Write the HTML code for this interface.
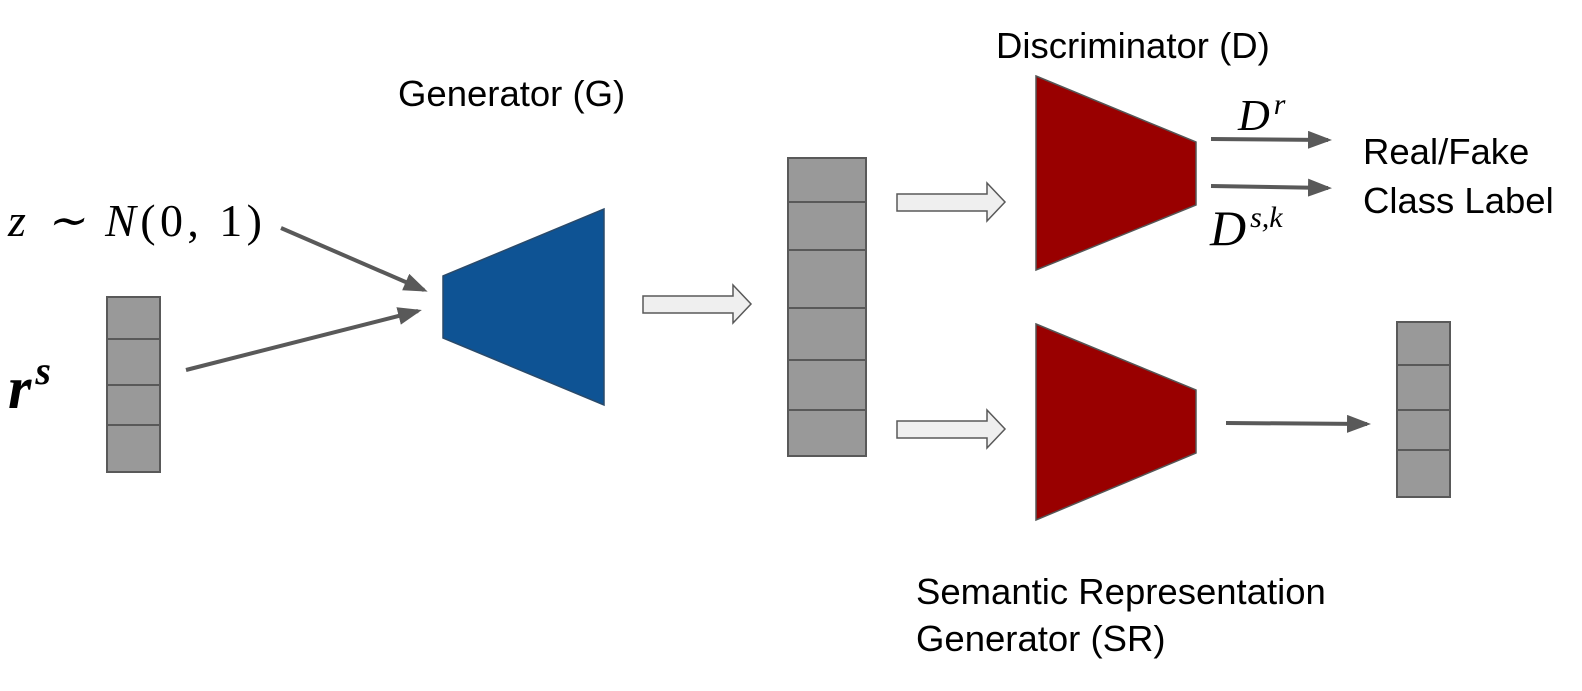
<!DOCTYPE html>
<html><head><meta charset="utf-8"><style>
html,body{margin:0;padding:0;background:#fff;width:1582px;height:691px;overflow:hidden}
</style></head><body>
<svg width="1582" height="691" xmlns="http://www.w3.org/2000/svg">
<defs>
<marker id="ah" markerWidth="24" markerHeight="18" refX="20" refY="9" orient="auto" markerUnits="userSpaceOnUse" viewBox="0 0 24 18">
<path d="M0,0 L24,9 L0,18 z" fill="#595959"/></marker>
</defs>
<g font-family="Liberation Sans, sans-serif" font-size="36.5" fill="#000">
<text x="398" y="106">Generator (G)</text>
<text x="996" y="58">Discriminator (D)</text>
<text x="1363" y="164">Real/Fake</text>
<text x="1363" y="213">Class Label</text>
<text x="916" y="604">Semantic Representation</text>
<text x="916" y="651">Generator (SR)</text>
</g>
<g font-family="Liberation Serif, serif" font-style="italic" font-size="46">
<text x="8" y="236" textLength="254" lengthAdjust="spacing">z ∼ <tspan>N</tspan><tspan font-style="normal">(0, 1)</tspan></text>
<text x="8" y="408" font-weight="bold" font-size="60">r<tspan dx="4" dy="-24" font-size="40">s</tspan></text>
<text x="1238" y="130" font-size="44">D<tspan dx="4" dy="-16" font-size="30">r</tspan></text>
<text x="1210" y="245" font-size="50">D<tspan dx="4" dy="-18" font-size="30">s,k</tspan></text>
</g>
<g fill="#999" stroke="#595959" stroke-width="2">
<rect x="107" y="297" width="53" height="175"/>
<line x1="107" y1="339" x2="160" y2="339"/><line x1="107" y1="385" x2="160" y2="385"/><line x1="107" y1="425" x2="160" y2="425"/>
<rect x="788" y="158" width="78" height="298"/>
<line x1="788" y1="202" x2="866" y2="202"/><line x1="788" y1="250" x2="866" y2="250"/><line x1="788" y1="308" x2="866" y2="308"/><line x1="788" y1="360" x2="866" y2="360"/><line x1="788" y1="410" x2="866" y2="410"/>
<rect x="1397" y="322" width="53" height="175"/>
<line x1="1397" y1="365" x2="1450" y2="365"/><line x1="1397" y1="410" x2="1450" y2="410"/><line x1="1397" y1="450" x2="1450" y2="450"/>
</g>
<polygon points="443,276 604,209 604,405 443,338" fill="#0e5394" stroke="#2a4a6a" stroke-width="1.5"/>
<polygon points="1036,76 1196,142 1196,205 1036,270" fill="#990000" stroke="#555" stroke-width="1.5"/>
<polygon points="1036,324 1196,390 1196,453 1036,520" fill="#990000" stroke="#555" stroke-width="1.5"/>
<g stroke="#595959" stroke-width="4" fill="none" marker-end="url(#ah)">
<line x1="281" y1="228" x2="424" y2="290"/>
<line x1="186" y1="370" x2="418" y2="311"/>
<line x1="1211" y1="139" x2="1328" y2="140"/>
<line x1="1211" y1="186" x2="1328" y2="188"/>
<line x1="1226" y1="423" x2="1367" y2="424"/>
</g>
<g fill="#efefef" stroke="#595959" stroke-width="1.5">
<polygon points="643,296 733,296 733,285 751,304 733,323 733,313 643,313"/>
<polygon points="897,194 987,194 987,183 1005,202 987,221 987,211 897,211"/>
<polygon points="897,421 987,421 987,410 1005,429 987,448 987,438 897,438"/>
</g>
</svg>
</body></html>
